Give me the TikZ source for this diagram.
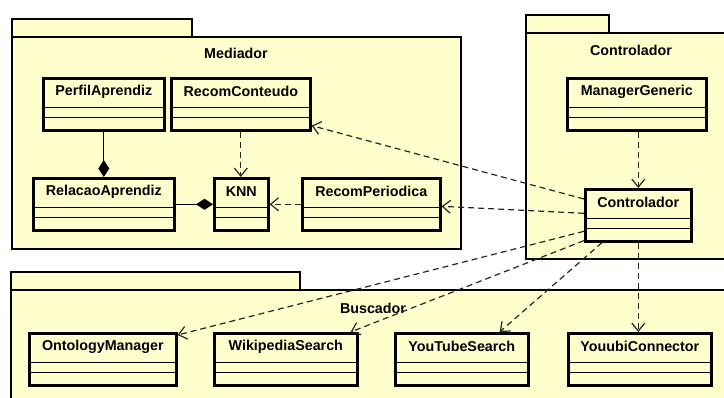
\documentclass[tikz,border=0pt]{standalone}
\usepackage{fontspec}
\setmainfont{Liberation Sans}
\usetikzlibrary{arrows.meta}
\definecolor{pkgfill}{RGB}{255,255,206}
\begin{document}
\begin{tikzpicture}[x=1pt,y=-1pt,
 pkg/.style={draw=black, fill=pkgfill, line width=2pt},
 cls/.style={draw=black, fill=pkgfill, line width=2.6pt, rectangle, inner sep=0pt, anchor=north west,
   minimum height=52pt,
   path picture={\draw[line width=1pt] ([yshift=-29pt]path picture bounding box.north west) -- ([yshift=-29pt]path picture bounding box.north east);
   \draw[line width=1pt] ([yshift=-39pt]path picture bounding box.north west) -- ([yshift=-39pt]path picture bounding box.north east);}},
 clsname/.style={font=\bfseries\fontsize{14.3}{16}\selectfont, inner sep=0pt},
 dep/.style={draw=black!85, line width=1.2pt, dash pattern=on 6pt off 4pt, -{Straight Barb[length=8pt,width=13pt,line width=1.2pt]}},
 comp/.style={draw=black, line width=1.2pt, -{Diamond[fill=black,length=17pt,width=11pt]}}]
\useasboundingbox (0,0) rectangle (724,397);
\clip (0,0) rectangle (724,397);
% packages
\draw[pkg] (12,19) rectangle (192,37);
\draw[pkg] (12,37) rectangle (461,249);
\node[clsname] (mediador) at (236,53) {Mediador};
\draw[pkg] (526,15) rectangle (609,33);
\draw[pkg] (526,33) rectangle (740,259);
\node[clsname] (controladorpkg) at (631,50) {Controlador};
\draw[pkg] (11,272) rectangle (300,290);
\draw[pkg] (11,290) rectangle (740,410);
% classes
\node[cls, minimum width=121pt] (pa) at (42,77) {};
\node[cls, minimum width=139pt] (rc) at (170,77) {};
\node[cls, minimum width=141pt] (ra) at (32,177) {};
\node[cls, minimum width=54pt] (knn) at (213,177) {};
\node[cls, minimum width=138pt] (rp) at (301,177) {};
\node[cls, minimum width=139pt] (mg) at (566,77) {};
\node[cls, minimum width=106pt] (ct) at (584,188) {};
\node[cls, minimum width=147pt] (om) at (28,332) {};
\node[cls, minimum width=143pt] (ws) at (213,332) {};
\node[cls, minimum width=133pt] (yt) at (394,332) {};
\node[cls, minimum width=143pt] (yc) at (567,332) {};
\node[clsname] (pa-t) at ([yshift=-14.5pt]pa.north) {PerfilAprendiz};
\node[clsname] (rc-t) at ([yshift=-14.5pt]rc.north) {RecomConteudo};
\node[clsname] (ra-t) at ([yshift=-14.5pt]ra.north) {RelacaoAprendiz};
\node[clsname] (knn-t) at ([yshift=-14.5pt]knn.north) {KNN};
\node[clsname] (rp-t) at ([yshift=-14.5pt]rp.north) {RecomPeriodica};
\node[clsname] (mg-t) at ([yshift=-14.5pt]mg.north) {ManagerGeneric};
\node[clsname] (ct-t) at ([yshift=-14.5pt]ct.north) {Controlador};
\node[clsname] (om-t) at ([yshift=-14.5pt]om.north) {OntologyManager};
\node[clsname] (ws-t) at ([yshift=-14.5pt]ws.north) {WikipediaSearch};
\node[clsname] (yt-t) at ([yshift=-14.5pt]yt.north) {YouTubeSearch};
\node[clsname] (yc-t) at ([yshift=-14.5pt]yc.north) {YouubiConnector};
\node[clsname] (buscador) at (373,308) {Buscador};
% connectors
\draw[comp] (pa.south) -- (pa.south |- ra.north);
\draw[comp] (ra.east) -- (ra.east -| knn.west);
\draw[dep] (rc.south) -- (rc.south |- knn.north);
\draw[dep] (rp.west) -- (knn.east);
\draw[dep] (ct.north |- mg.south) -- (ct.north);
\draw[dep] ([yshift=-11pt]ct.north west) -- ([yshift=6pt]rc.south east);
\draw[dep] ([yshift=2pt]ct.west) -- ([yshift=-2pt]rp.east);
\draw[dep] ([yshift=-16pt]ct.west) -- ([yshift=-3pt]om.north east);
\draw[dep] ([yshift=2pt]ct.south west) -- ([xshift=-8pt]ws.north east);
\draw[dep] ([xshift=18pt]ct.south west) -- ([xshift=-30pt]yt.north east);
\draw[dep] (ct.south) -- (ct.south |- yc.north);
\end{tikzpicture}
\end{document}
